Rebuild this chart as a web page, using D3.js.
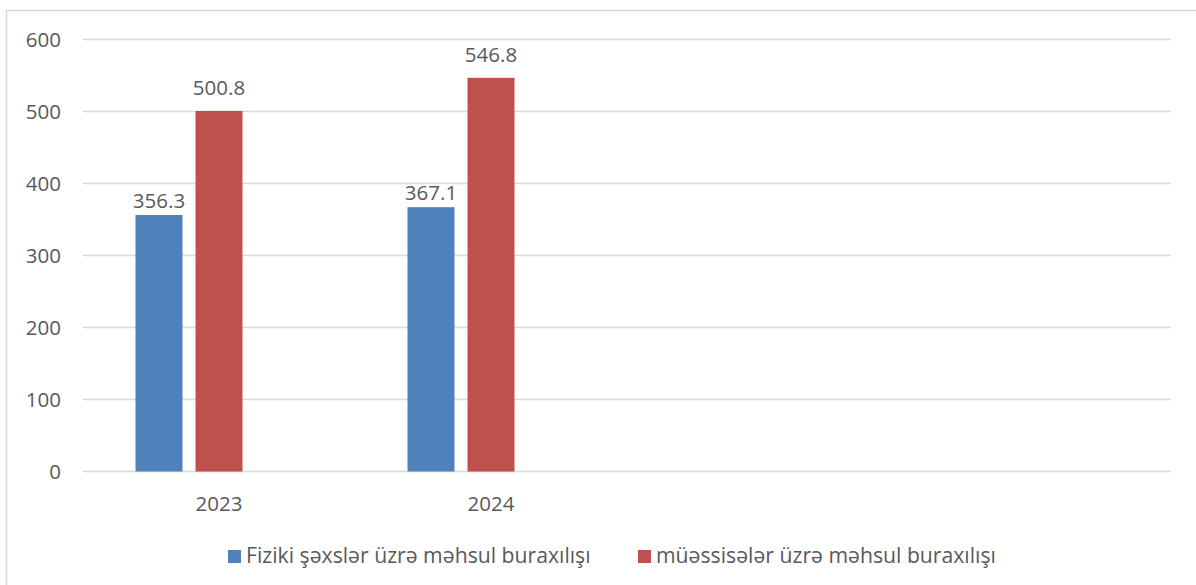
<!DOCTYPE html>
<html><head><meta charset="utf-8">
<script src="https://cdn.jsdelivr.net/npm/d3@7"></script>
<style>body{margin:0;background:#fff}text{font-family:"Open Sans",sans-serif;fill:#595959}</style>
</head><body><svg id="c" width="1196" height="585"></svg>
<script>
const categories = ["2023", "2024", "", " "];
const seriesNames = ["Fiziki şəxslər üzrə məhsul buraxılışı", "müəssisələr üzrə məhsul buraxılışı", "_empty"];
const fiziki = [356.3, 367.1, null, null];
const muessise = [500.8, 546.8, null, null];
const emptySeries = [null, null, null, null];
const yTicks = [0, 100, 200, 300, 400, 500, 600];
const colors = ["#4F81BD", "#C0504D", "none"];
const labelGap = [7, 16, 0];

(function () {
const svg = d3.select("#c");
svg.append("rect").attr("x", 6.5).attr("y", 10.5).attr("width", 1300).attr("height", 700)
  .attr("fill", "none").attr("stroke", "#D9D9D9").attr("stroke-width", 1.5);

const pLeft = 83, pRight = 1171, pTop = 39.5, pBottom = 471.5;
const x = d3.scaleBand().domain(categories).range([pLeft, pRight]).paddingInner(105/272).paddingOuter(52.5/272);
const xs = d3.scaleBand().domain(seriesNames).range([0, x.bandwidth()]).paddingInner(13/60);
const y = d3.scaleLinear().domain([0, 600]).range([pBottom, pTop]);

svg.append("g").selectAll("line").data(yTicks).join("line")
  .attr("x1", pLeft).attr("x2", pRight).attr("y1", d => y(d)).attr("y2", d => y(d))
  .attr("stroke", "#D9D9D9").attr("stroke-width", 1.5);

const yAxis = d3.axisLeft(y).tickValues(yTicks).tickSize(0).tickPadding(0);
const ya = svg.append("g").attr("transform", `translate(61,0)`).call(yAxis);
ya.select(".domain").remove();
ya.selectAll("text").style("font-size", "20.5px").attr("fill", "#595959").style("font-family", '"Open Sans",sans-serif');

const xAxis = d3.axisBottom(x).tickSize(0).tickPadding(0);
const xa = svg.append("g").attr("transform", `translate(0,${pBottom + 25})`).call(xAxis);
xa.select(".domain").remove();
xa.selectAll("text").style("font-size", "20.5px").attr("fill", "#595959").style("font-family", '"Open Sans",sans-serif');

const series = [fiziki, muessise, emptySeries];
series.forEach((vals, si) => {
  const g = svg.append("g");
  const data = categories.map((c, i) => ({c, v: vals[i]})).filter(d => d.v != null);
  g.selectAll("rect").data(data).join("rect")
    .attr("x", d => x(d.c) + xs(seriesNames[si]))
    .attr("width", xs.bandwidth())
    .attr("y", d => y(d.v))
    .attr("height", d => y(0) - y(d.v))
    .attr("fill", colors[si]);
  g.selectAll("text").data(data).join("text")
    .attr("x", d => x(d.c) + xs(seriesNames[si]) + xs.bandwidth() / 2)
    .attr("y", d => y(d.v) - labelGap[si])
    .attr("text-anchor", "middle")
    .style("font-size", "20.5px")
    .text(d => d.v.toFixed(1));
});

const legendX = [228, 638];
seriesNames.slice(0, 2).forEach((n, i) => {
  svg.append("rect").attr("x", legendX[i]).attr("y", 550).attr("width", 13).attr("height", 13).attr("fill", colors[i]);
  svg.append("text").attr("x", legendX[i] + 18).attr("y", 563).style("font-size", "21.2px").text(n);
});
})();
</script></body></html>
